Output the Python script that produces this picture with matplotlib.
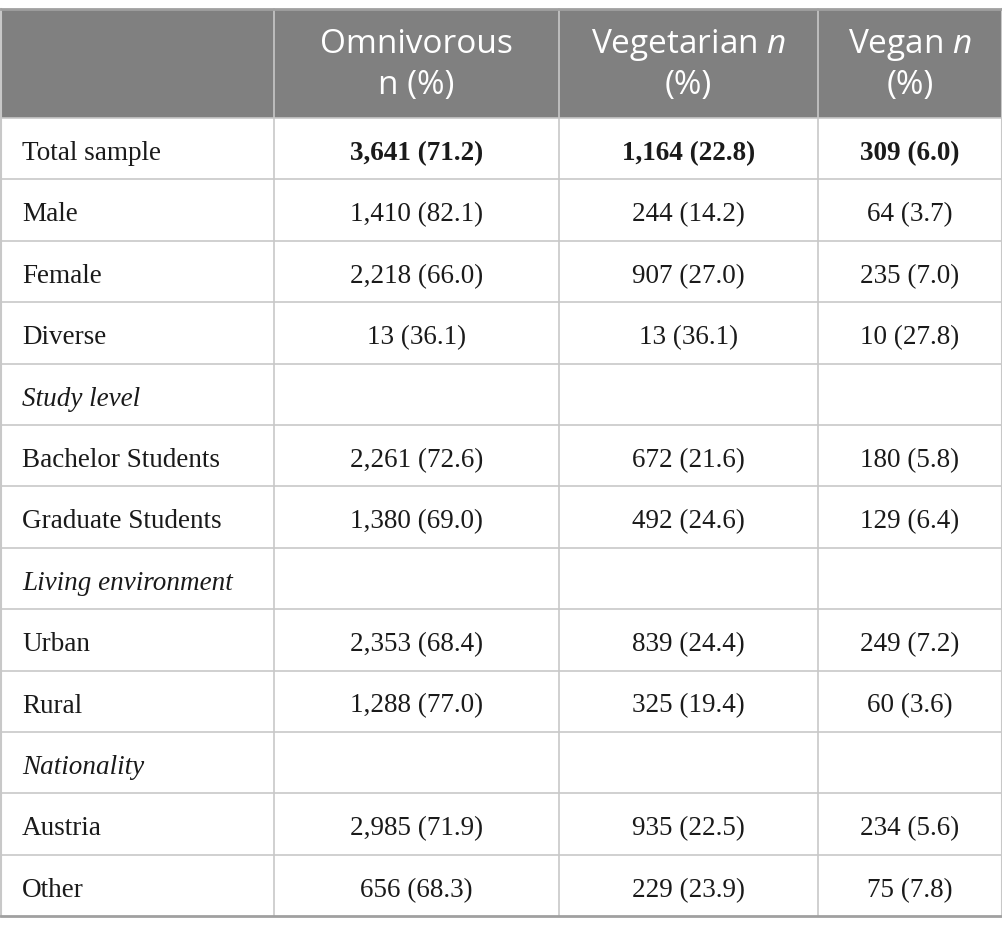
import matplotlib
matplotlib.use("Agg")
import matplotlib.pyplot as plt
from matplotlib.patches import Rectangle

headers = [("Omnivorous", "n (%)"), ("Vegetarian $\\it{n}$", "(%)"), ("Vegan $\\it{n}$", "(%)")]
row_labels = ["Total sample", "Male", "Female", "Diverse", "Study level",
              "Bachelor Students", "Graduate Students", "Living environment",
              "Urban", "Rural", "Nationality", "Austria", "Other"]
omnivorous = ["3,641 (71.2)", "1,410 (82.1)", "2,218 (66.0)", "13 (36.1)", "",
              "2,261 (72.6)", "1,380 (69.0)", "", "2,353 (68.4)", "1,288 (77.0)", "",
              "2,985 (71.9)", "656 (68.3)"]
vegetarian = ["1,164 (22.8)", "244 (14.2)", "907 (27.0)", "13 (36.1)", "",
              "672 (21.6)", "492 (24.6)", "", "839 (24.4)", "325 (19.4)", "",
              "935 (22.5)", "229 (23.9)"]
vegan = ["309 (6.0)", "64 (3.7)", "235 (7.0)", "10 (27.8)", "",
         "180 (5.8)", "129 (6.4)", "", "249 (7.2)", "60 (3.6)", "",
         "234 (5.6)", "75 (7.8)"]
italic_rows = {"Study level", "Living environment", "Nationality"}
bold_rows = {"Total sample"}

plt.rcParams["mathtext.fontset"] = "custom"
plt.rcParams["mathtext.it"] = "Open Sans:italic"
plt.rcParams["mathtext.rm"] = "Open Sans"

W, H = 1003, 932
fig = plt.figure(figsize=(W / 100, H / 100), dpi=100)
ax = fig.add_axes([0, 0, 1, 1])
ax.set_xlim(0, W)
ax.set_ylim(H, 0)
ax.axis("off")

left, right = 1, 1002
top, head_bot = 9, 118
row_h = 61.4
col_x = [left, 274, 559, 818, right]
n = len(row_labels)
bottom = head_bot + n * row_h

grid = "#c8c8c8"
ax.add_patch(Rectangle((left, top), right - left, head_bot - top, color="#808080", lw=0, zorder=0))

# header texts
for j, (l1, l2) in enumerate(headers):
    cx = (col_x[j + 1] + col_x[j + 2]) / 2
    for k, s in enumerate((l1, l2)):
        ax.text(cx, 53 + k * 41, s, ha="center", va="baseline", color="white",
                fontsize=24, family="Open Sans")

# body
cols = [omnivorous, vegetarian, vegan]
for i, lab in enumerate(row_labels):
    by = head_bot + i * row_h + 42
    style = "italic" if lab in italic_rows else "normal"
    ax.text(22, by, lab, ha="left", va="baseline", fontsize=19.5,
            family="Liberation Serif", style=style, color="#1a1a1a")
    for j, col in enumerate(cols):
        cx = (col_x[j + 1] + col_x[j + 2]) / 2
        ax.text(cx, by, col[i], ha="center", va="baseline", fontsize=19.5,
                family="Liberation Serif",
                weight="bold" if lab in bold_rows else "normal", color="#1a1a1a")

# horizontal lines
for i in range(1, n):
    y = head_bot + i * row_h
    ax.plot([left, right], [y, y], color=grid, lw=1.2, zorder=2)
ax.plot([left, right], [head_bot, head_bot], color=grid, lw=1.2, zorder=2)
ax.plot([left, right], [top, top], color="#a0a0a0", lw=2, zorder=3)
ax.plot([left, right], [bottom, bottom], color="#a0a0a0", lw=2, zorder=3)
# vertical lines
for x in col_x[1:4]:
    ax.plot([x, x], [top, bottom], color=grid, lw=1.2, zorder=2)
ax.plot([left, left], [top, bottom], color=grid, lw=1.5, zorder=2)
ax.plot([right, right], [top, bottom], color=grid, lw=1.5, zorder=2)

fig.savefig("out.png", dpi=100)
